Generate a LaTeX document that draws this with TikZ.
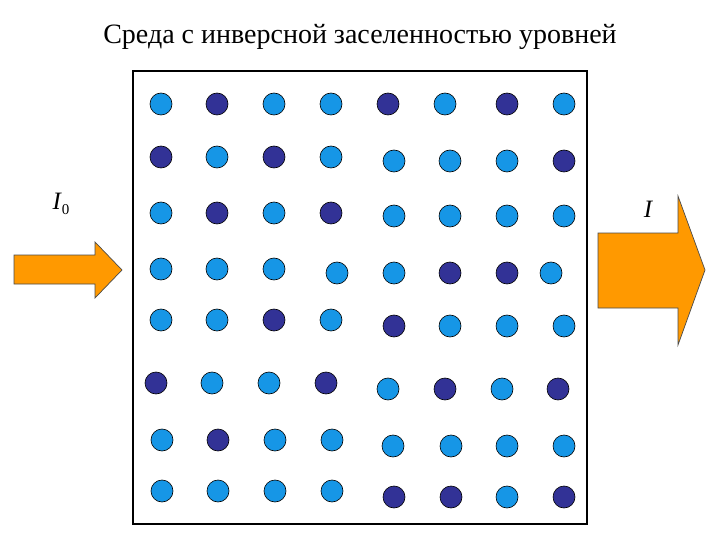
\documentclass[tikz,border=0pt]{standalone}
\usepackage{fontspec}
\setmainfont{Liberation Serif}
\begin{document}
\begin{tikzpicture}[x=1pt,y=-1pt,
  lt/.style={circle,draw=black,line width=0.6pt,fill=lightdot,minimum size=22pt,inner sep=0pt},
  dk/.style={circle,draw=black,line width=0.6pt,fill=darkdot,minimum size=22pt,inner sep=0pt},
  arrowshape/.style={draw=black!70,line width=0.7pt,fill=arroworange},
  lbl/.style={font=\fontsize{28}{32}\selectfont,inner sep=0pt},
  ilbl/.style={font=\fontsize{25}{28}\selectfont\itshape,inner sep=0pt}]
\definecolor{lightdot}{RGB}{22,150,230}
\definecolor{darkdot}{RGB}{50,50,150}
\definecolor{arroworange}{RGB}{255,153,0}
\useasboundingbox (0,0) rectangle (720,540);
\fill[white] (0,0) rectangle (720,540);
\node[lbl] (title) at (360,37) {Среда с инверсной заселенностью уровней};
\draw[line width=1.3pt] (133,71) rectangle (587,524);
\foreach \x/\y/\s [count=\n] in {
 161/104/lt,217/104/dk,274/104/lt,331/104/lt,388/104/dk,445/104/lt,507/104/dk,564/104/lt,
 161/157/dk,217/157/lt,274/157/dk,331/157/lt,394/161/lt,450/161/lt,507/161/lt,564/161/dk,
 161/213/lt,217/213/dk,274/213/lt,331/213/dk,394/216/lt,450/216/lt,507/216/lt,564/216/lt,
 161/269/lt,217/269/lt,274/269/lt,337/273/lt,394/273/lt,450/273/dk,507/273/dk,551/273/lt,
 161/320/lt,217/320/lt,274/320/dk,331/320/lt,394/326/dk,450/326/lt,507/326/lt,564/326/lt,
 156/383/dk,212/383/lt,269/383/lt,326/383/dk,388/389/lt,445/389/dk,502/389/lt,558/389/dk,
 162/440/lt,218/440/dk,275/440/lt,332/440/lt,393/446/lt,451/446/lt,507/446/lt,564/446/lt,
 162/491/lt,218/491/lt,275/491/lt,332/491/lt,394/497/dk,451/497/dk,507/497/lt,564/497/dk}
 \node[\s] (c\n) at (\x,\y) {};
\draw[arrowshape] (14,255) -- (95,255) -- (95,242) -- (122,270) -- (95,298) -- (95,284) -- (14,284) -- cycle;
\draw[arrowshape] (598,233) -- (678,233) -- (678,196) -- (705,270) -- (678,345) -- (678,308) -- (598,308) -- cycle;
\node[ilbl] (inlabel) at (61,204) {I\kern1pt\raisebox{-5pt}{\upshape\fontsize{15}{17}\selectfont 0}};
\node[ilbl] (outlabel) at (648,209) {I};
\end{tikzpicture}
\end{document}
